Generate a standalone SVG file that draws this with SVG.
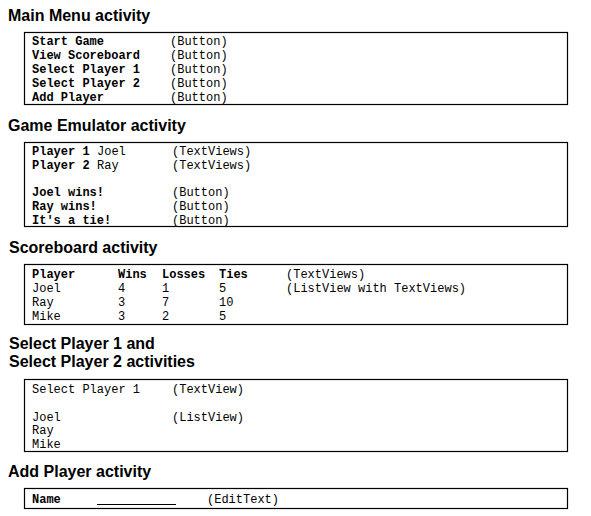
<svg xmlns="http://www.w3.org/2000/svg" width="591" height="516" viewBox="0 0 591 516">
<style>
.t{font-family:"Liberation Sans",Arial,sans-serif;font-weight:bold;font-size:16px;fill:#000}
.m{font-family:"Liberation Mono","Courier New",monospace;font-size:12px;fill:#000}
.b{font-weight:bold}
.box{fill:#fff;stroke:#000;stroke-width:1.2}
</style>
<rect width="591" height="516" fill="#fff"/>
<g id="main-menu">
<text class="t" x="8" y="20.5">Main Menu activity</text>
<rect class="box" x="24.5" y="32.5" width="543" height="72"/>
<text class="m b" x="32" y="45">Start Game</text>
<text class="m b" x="32" y="59">View Scoreboard</text>
<text class="m b" x="32" y="73">Select Player 1</text>
<text class="m b" x="32" y="87">Select Player 2</text>
<text class="m b" x="32" y="101">Add Player</text>
<text class="m" x="170" y="45">(Button)</text>
<text class="m" x="170" y="59">(Button)</text>
<text class="m" x="170" y="73">(Button)</text>
<text class="m" x="170" y="87">(Button)</text>
<text class="m" x="170" y="101">(Button)</text>
</g>
<g id="game-emulator">
<text class="t" x="8" y="130.5">Game Emulator activity</text>
<rect class="box" x="24.5" y="142.5" width="543" height="84"/>
<text class="m b" x="32" y="155">Player 1</text>
<text class="m b" x="32" y="169">Player 2</text>
<text class="m" x="97" y="155">Joel</text>
<text class="m" x="97" y="169">Ray</text>
<text class="m" x="172" y="155">(TextViews)</text>
<text class="m" x="172" y="169">(TextViews)</text>
<text class="m b" x="32" y="196">Joel wins!</text>
<text class="m b" x="32" y="210">Ray wins!</text>
<text class="m b" x="32" y="224">It's a tie!</text>
<text class="m" x="172" y="196">(Button)</text>
<text class="m" x="172" y="210">(Button)</text>
<text class="m" x="172" y="224">(Button)</text>
</g>
<g id="scoreboard">
<text class="t" x="9" y="253">Scoreboard activity</text>
<rect class="box" x="24.5" y="264.5" width="543" height="60"/>
<text class="m b" x="32" y="278">Player</text>
<text class="m b" x="118" y="278">Wins</text>
<text class="m b" x="162" y="278">Losses</text>
<text class="m b" x="219" y="278">Ties</text>
<text class="m" x="286" y="278">(TextViews)</text>
<text class="m" x="32" y="292">Joel</text>
<text class="m" x="118" y="292">4</text>
<text class="m" x="162" y="292">1</text>
<text class="m" x="219" y="292">5</text>
<text class="m" x="286" y="292">(ListView with TextViews)</text>
<text class="m" x="32" y="306">Ray</text>
<text class="m" x="118" y="306">3</text>
<text class="m" x="162" y="306">7</text>
<text class="m" x="219" y="306">10</text>
<text class="m" x="32" y="320">Mike</text>
<text class="m" x="118" y="320">3</text>
<text class="m" x="162" y="320">2</text>
<text class="m" x="219" y="320">5</text>
</g>
<g id="select-player">
<text class="t" x="9" y="349">Select Player 1 and</text>
<text class="t" x="9" y="367">Select Player 2 activities</text>
<rect class="box" x="24.5" y="379.5" width="543" height="72"/>
<text class="m" x="32" y="393">Select Player 1</text>
<text class="m" x="172" y="393">(TextView)</text>
<text class="m" x="32" y="421">Joel</text>
<text class="m" x="172" y="421">(ListView)</text>
<text class="m" x="32" y="434">Ray</text>
<text class="m" x="32" y="448">Mike</text>
</g>
<g id="add-player">
<text class="t" x="8" y="477">Add Player activity</text>
<rect class="box" x="24.5" y="488.5" width="543" height="20"/>
<text class="m b" x="32" y="503">Name</text>
<line x1="97" y1="504.5" x2="176" y2="504.5" stroke="#000" stroke-width="1"/>
<text class="m" x="207" y="503">(EditText)</text>
</g>
</svg>
